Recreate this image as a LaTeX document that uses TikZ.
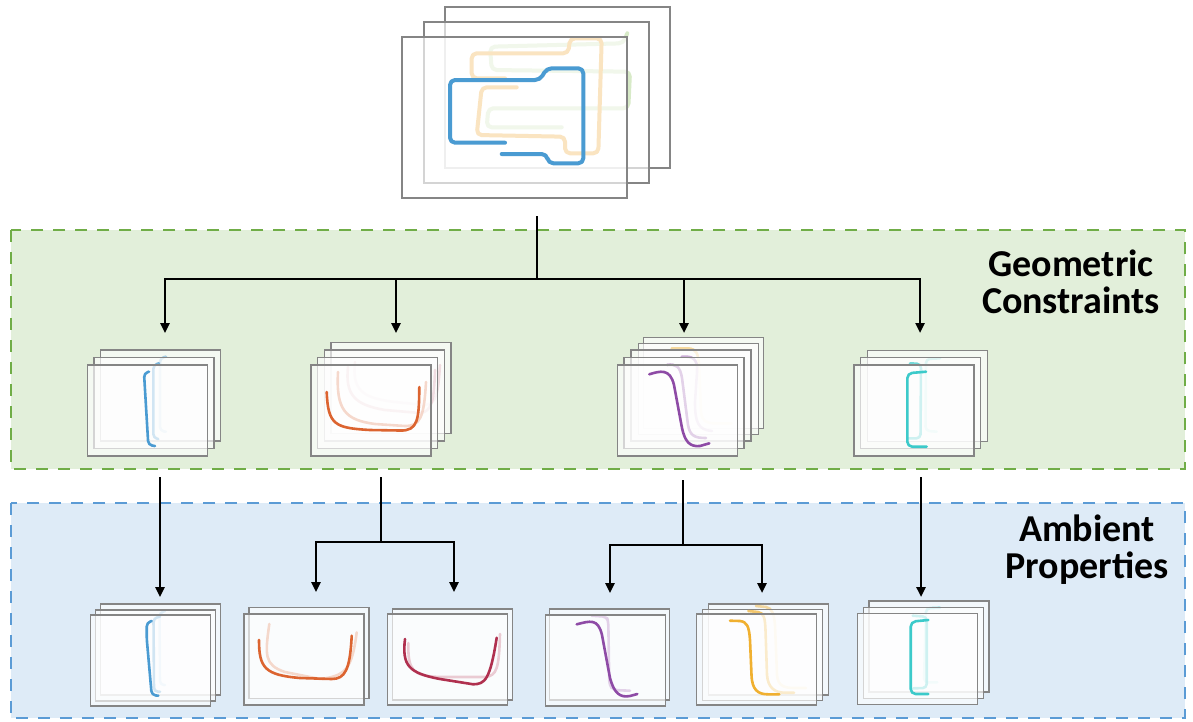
\documentclass[tikz,border=0pt]{standalone}
\usepackage{fontspec}
\newfontfamily\lab{Carlito}
\usetikzlibrary{arrows.meta}
\definecolor{frameGray}{HTML}{858585}
\definecolor{geoFill}{HTML}{E2EFDA}
\definecolor{geoLine}{HTML}{70AD47}
\definecolor{ambFill}{HTML}{DEEBF7}
\definecolor{ambLine}{HTML}{5B9BD5}
\definecolor{cBlue}{HTML}{4A9BD2}
\definecolor{cOrangeT}{HTML}{F2B450}
\definecolor{cGreenT}{HTML}{8FC35F}
\definecolor{cOrange}{HTML}{DC6430}
\definecolor{cRed}{HTML}{B0304F}
\definecolor{cPurple}{HTML}{8E4BA6}
\definecolor{cYellow}{HTML}{F0B030}
\definecolor{cCyan}{HTML}{3CCACA}
\begin{document}
\begin{tikzpicture}[x=1pt,y=-1pt,
  region/.style={line width=2.5pt, dash pattern=on 12pt off 10pt},
  frm/.style={draw=frameGray, line width=1.3pt, fill=white, fill opacity=0.65, anchor=north west, inner sep=0pt, outer sep=0pt},
  frmS/.style={frm, minimum width=120pt, minimum height=91pt},
  frmT/.style={frm, minimum width=225pt, minimum height=161pt},
  cv/.style={line width=2.6pt, line cap=round, line join=round},
  back1/.style={draw opacity=0.7},
  back2/.style={draw opacity=0.45},
  cvT/.style={line width=4pt, line cap=round, line join=round, rounded corners=5pt},
  conn/.style={line width=2.4pt, black},
  arr/.style={conn, -{Triangle[length=10pt,width=9pt]}},
  lbl/.style={font=\lab\bfseries\fontsize{38}{37}\selectfont, align=center, text=black}]
\path[use as bounding box] (0,0) rectangle (1193,721);

% regions
\path[region, draw=geoLine, fill=geoFill] (11,230) rectangle (1185,469);
\path[region, draw=ambLine, fill=ambFill] (11,503) rectangle (1185,718);
\node[lbl] (geo) at (1071,282) {Geometric\\Constraints};
\node[lbl] (amb) at (1087,550) {Ambient\\Properties};

% top stack
\node[frmT] (T1) at (445,7) {};
\draw[cvT, cGreenT] (561.7,127.3) -- (486.7,127.3) -- (488.3,108.3) -- (628.3,108.3) -- (630,71.7) -- (491.7,70) -- (490,46.7) -- (623.3,43.3) -- (627.3,33.3);
\node[frmT] (T2) at (424,22) {};
\draw[cvT, cOrangeT] (516.7,87.3) -- (481.7,87.3) -- (476.7,135) -- (565,136.7) -- (565,153.3) -- (598.3,153.3) -- (601.7,38.3) -- (570,38.3) -- (568.3,53.3) -- (471.7,53.3) -- (471.7,78.3) -- (505,78.3);
\node[frmT] (T3) at (402,37) {};
\draw[cvT, cBlue] (505,142.7) -- (450,142.7) -- (450,80) -- (540,80) -- (546.7,68.3) -- (583.3,68.3) -- (583.3,163.3) -- (548.3,163.3) -- (546.7,154) -- (501.7,154);

% stack A
\node[frmS] (A1) at (100.7,350) {};
\draw[cv, back2, cBlue, rounded corners=4pt] (166,356.7) -- (160,358) -- (160,431) -- (166,431.7);
\node[frmS] (A2) at (94,357.3) {};
\draw[cv, back1, cBlue, rounded corners=4pt] (159,363.3) -- (153.3,365) -- (153.3,438) -- (158.3,439);
\node[frmS] (A3) at (87.3,365) {};
\draw[cv, cBlue, rounded corners=4pt] (149,371.7) -- (144,373) -- (148.3,445) -- (155,446);

% stack B
\node[frmS] (B1) at (331,342.3) {};
\draw[cv, back2, cRed] (355,362) .. controls (352,390) and (362,398) .. (395,402) -- (425,405) .. controls (437,404) and (438,392) .. (440,365);
\node[frmS] (B2) at (324.3,350) {};
\draw[cv, back2, cRed] (348,367) .. controls (345,395) and (355,405) .. (385,410) -- (420,413) .. controls (432,412) and (434,400) .. (435,370);
\node[frmS] (B3) at (317.7,357.7) {};
\draw[cv, back1, cOrange] (338,372) .. controls (336,410) and (345,420) .. (375,424) -- (405,426) .. controls (420,426) and (424,418) .. (426,382);
\node[frmS] (B4) at (311,365) {};
\draw[cv, cOrange] (326.7,392) .. controls (328,425) and (335,428) .. (370,430) -- (400,430.5) .. controls (418,431) and (419,420) .. (419.3,387);

% stack C
\node[frmS] (C1) at (643.3,337.3) {};
\node[frmS] (C2) at (638.3,343.3) {};
\draw[cv, back2, cYellow] (671.7,348.3) -- (688,348.3) .. controls (697,349) and (698,354) .. (699,365) -- (701,412) .. controls (702,421) and (706,423.3) .. (715,423.3) -- (731.7,423.3);
\node[frmS] (C3) at (631,350) {};
\draw[cv, back2, cPurple] (681.7,356.7) .. controls (692,356) and (698,358) .. (697,372) -- (695,402) .. controls (695,422) and (698,430) .. (712,431);
\node[frmS] (C4) at (624,357.7) {};
\draw[cv, back1, cPurple] (667,365) .. controls (676,364) and (680,366) .. (682,378) -- (688,425) .. controls (690,436) and (695,438) .. (706,438);
\node[frmS] (C5) at (617.3,365) {};
\draw[cv, cPurple] (649.3,374.3) .. controls (660,371) and (670,368) .. (674,385) -- (682,428) .. controls (685,442) and (690,447) .. (700,446) -- (709.3,443.3);

% stack D
\node[frmS] (D1) at (867.3,350.7) {};
\draw[cv, back2, cCyan, rounded corners=4pt] (940,358.3) -- (926,359) -- (925.5,430.7) -- (936.7,431.7);
\node[frmS] (D2) at (860.7,357.3) {};
\draw[cv, back1, cCyan, rounded corners=4pt] (910,363.3) -- (921,364) -- (920.5,438.3) -- (908,438.3);
\node[frmS] (D3) at (854,365) {};
\draw[cv, cCyan, rounded corners=5pt] (926,371.7) -- (907.3,373.3) -- (907.3,446.7) -- (926.7,446.7);

% stack E
\node[frmS] (E1) at (100.7,604) {};
\draw[cv, back2, cBlue, rounded corners=4pt] (165,611) -- (159.5,612.5) -- (160,685) -- (165,685);
\node[frmS] (E2) at (95.7,610) {};
\draw[cv, back1, cBlue, rounded corners=4pt] (160,616.7) -- (153.5,618) -- (154,691.7) -- (160,691.7);
\node[frmS] (E3) at (90.7,615) {};
\draw[cv, cBlue, rounded corners=4pt] (151.7,621) -- (146.7,622.5) -- (146.7,638.3) -- (151.7,695) -- (158.3,695.7);

% stack F
\node[frmS] (F1) at (249,607.7) {};
\draw[cv, back1, cOrange] (269.3,624) .. controls (265,655) and (264,665) .. (285,672) -- (320,679) .. controls (345,676) and (352,670) .. (356.7,632.3);
\node[frmS] (F2) at (244,614) {};
\draw[cv, cOrange] (259,640) .. controls (259,668) and (265,675) .. (300,678) -- (331.7,679) .. controls (345,679) and (350,670) .. (351.7,635.7);

% stack G
\node[frmS] (G1) at (392.7,609) {};
\draw[cv, back1, cRed] (408.3,643) .. controls (408,670) and (412,676) .. (440,677) -- (485,677) .. controls (497,676) and (499,668) .. (500,634);
\node[frmS] (G2) at (387.7,614) {};
\draw[cv, cRed] (405,639) .. controls (402,665) and (408,673) .. (440,679) -- (473.3,684.3) .. controls (485,684) and (490,680) .. (496.7,637.7);

% stack H
\node[frmS] (H1) at (549.3,609) {};
\draw[cv, back1, cPurple, rounded corners=4pt] (591.7,615.7) -- (606.7,616.7) -- (608.3,621.7) -- (609.3,685) -- (613.3,690) -- (630,690.7);
\node[frmS] (H2) at (545.7,615) {};
\draw[cv, cPurple] (576.7,624.3) .. controls (590,621) and (598,618) .. (602,635) -- (610,678) .. controls (614,693) and (620,698) .. (630,696) -- (637.3,694);

% stack I
\node[frmS] (I1) at (708.3,604) {};
\draw[cv, back2, cYellow] (756,606) -- (766,607) .. controls (772,608) and (774,614) .. (775,625) -- (777,675) .. controls (778,686) and (784,688) .. (795,688) -- (806,688);
\node[frmS] (I2) at (702.7,609.3) {};
\draw[cv, back1, cYellow] (748.3,611) -- (758,612) .. controls (764,613) and (765,618) .. (765.5,630) -- (767,675) .. controls (768,688) and (775,692.7) .. (785,692.7) -- (794,692.7);
\node[frmS] (I3) at (696.7,614) {};
\draw[cv, cYellow] (730,620.7) -- (740,621) .. controls (747,622) and (749,626) .. (750,640) -- (751.5,675) .. controls (752,690) and (758,694.3) .. (768,694.3) -- (779.3,694.3);

% stack J
\node[frmS] (J1) at (869,601) {};
\draw[cv, back2, cCyan, rounded corners=4pt] (940,607.7) -- (926,608.3) -- (924,682.3) -- (937.3,682.3);
\node[frmS] (J2) at (863.3,607.7) {};
\draw[cv, back1, cCyan, rounded corners=4pt] (912.7,615.7) -- (926.7,616.7) -- (926.7,688) -- (913.3,688.3);
\node[frmS] (J3) at (857.3,613.3) {};
\draw[cv, cCyan, rounded corners=5pt] (928.3,620) -- (910.7,621.7) -- (910.7,694) -- (928.3,694);

% connectors: level 1 -> 2
\coordinate (t0) at (537,216);
\coordinate (t1) at (537,279);
\coordinate (hL) at (165,279);
\coordinate (hR) at (920,279);
\coordinate (hB) at (396,279);
\coordinate (hC) at (684,279);
\coordinate (inA) at (165,333);
\coordinate (inB) at (396,333);
\coordinate (inC) at (684,333);
\coordinate (inD) at (920,333);
\draw[conn] (t0) -- (t1);
\draw[conn, line cap=rect] (hL) -- (hR);
\draw[arr] (hL) -- (inA);
\draw[arr] (hB) -- (inB);
\draw[arr] (hC) -- (inC);
\draw[arr] (hR) -- (inD);

% connectors: level 2 -> 3
\coordinate (oA) at (160,477);
\coordinate (inE) at (160,597);
\draw[arr] (oA) -- (inE);

\coordinate (oB) at (381,477);
\coordinate (jB) at (381,542);
\coordinate (jBL) at (316,542);
\coordinate (jBR) at (454,542);
\coordinate (inF) at (316,592);
\coordinate (inG) at (454,592);
\draw[conn] (oB) -- (jB);
\draw[conn, line cap=rect] (jBL) -- (jBR);
\draw[arr] (jBL) -- (inF);
\draw[arr] (jBR) -- (inG);

\coordinate (oC) at (683,480);
\coordinate (jC) at (683,545);
\coordinate (jCL) at (610,545);
\coordinate (jCR) at (762,545);
\coordinate (inH) at (610,593);
\coordinate (inI) at (762,593);
\draw[conn] (oC) -- (jC);
\draw[conn, line cap=rect] (jCL) -- (jCR);
\draw[arr] (jCL) -- (inH);
\draw[arr] (jCR) -- (inI);

\coordinate (oD) at (921,477);
\coordinate (inJ) at (921,597);
\draw[arr] (oD) -- (inJ);
\end{tikzpicture}
\end{document}
